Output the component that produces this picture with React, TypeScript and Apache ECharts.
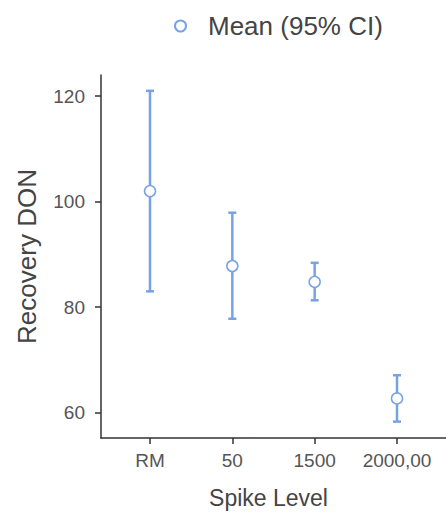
import React, { useEffect, useRef } from "react";
import * as echarts from "echarts";

const categories = ["RM", "50", "1500", "2000,00"];
const means = [102.0, 87.8, 84.8, 62.7];
const lowerCI = [83.0, 77.8, 81.3, 58.3];
const upperCI = [121.0, 97.9, 88.4, 67.1];
const yTicks = [60, 80, 100, 120];

const BLUE = "#78a2e6";
const FONT = "'Liberation Sans', Arial, sans-serif";

export default function App() {
  const ref = useRef<HTMLDivElement>(null);
  useEffect(() => {
    if (!ref.current) return;
    const chart = echarts.init(ref.current, undefined, { renderer: "svg" });
    const errData = categories.map((_, i) => [i, lowerCI[i], upperCI[i]]);
    const meanData = categories.map((_, i) => [i, means[i]]);
    chart.setOption({
      animation: false,
      textStyle: { fontFamily: FONT },
      legend: {
        left: 169,
        top: 8,
        itemWidth: 11,
        itemHeight: 11,
        itemGap: 0,
        data: [{ name: "Mean (95% CI)", icon: "circle" }],
        textStyle: { fontSize: 26, color: "#444", fontFamily: FONT, padding: [0, 0, 0, 17] },
      },
      grid: { left: 101, top: 75, width: 345, height: 363 },
      xAxis: {
        type: "value",
        min: -0.595,
        max: 3.595,
        name: "Spike Level",
        nameLocation: "middle",
        nameGap: 48,
        nameTextStyle: { fontSize: 23, color: "#444", fontFamily: FONT, padding: [0, 10, 0, 0] },
        splitLine: { show: false },
        axisLine: { show: true, onZero: false, lineStyle: { color: "#333", width: 1.5 } },
        axisTick: { show: true, length: 6, customValues: [0, 1, 2, 3], lineStyle: { color: "#333", width: 1.5 } },
        axisLabel: {
          customValues: [0, 1, 2, 3],
          formatter: (v: number) => categories[Math.round(v)] ?? "",
          fontSize: 19,
          color: "#555",
          margin: 13,
          fontFamily: FONT,
        },
      },
      yAxis: {
        type: "value",
        min: 55.2,
        max: 124.0,
        name: "Recovery DON",
        nameLocation: "middle",
        nameGap: 61,
        nameTextStyle: { fontSize: 26, color: "#444", fontFamily: FONT },
        splitLine: { show: false },
        axisLine: { show: true, onZero: false, lineStyle: { color: "#333", width: 1.5 } },
        axisTick: { show: true, length: 6, customValues: yTicks, lineStyle: { color: "#333", width: 1.5 } },
        axisLabel: {
          customValues: yTicks,
          fontSize: 19,
          color: "#555",
          margin: 16,
          fontFamily: FONT,
        },
      },
      series: [
        {
          type: "custom",
          name: "CI",
          data: errData,
          encode: { x: 0, y: [1, 2] },
          renderItem: (params: any, api: any) => {
            const x = api.value(0);
            const lo = api.coord([x, api.value(1)]);
            const hi = api.coord([x, api.value(2)]);
            const hw = 4;
            const style = { stroke: BLUE, lineWidth: 2.5, fill: "none" };
            return {
              type: "group",
              children: [
                { type: "line", shape: { x1: lo[0], y1: lo[1], x2: hi[0], y2: hi[1] }, style },
                { type: "line", shape: { x1: hi[0] - hw, y1: hi[1], x2: hi[0] + hw, y2: hi[1] }, style },
                { type: "line", shape: { x1: lo[0] - hw, y1: lo[1], x2: lo[0] + hw, y2: lo[1] }, style },
              ],
            };
          },
          z: 1,
        },
        {
          type: "scatter",
          name: "Mean (95% CI)",
          data: meanData,
          symbol: "circle",
          symbolSize: 11,
          itemStyle: { color: "#fff", borderColor: BLUE, borderWidth: 1.5, opacity: 1 },
          z: 2,
        },
      ],
    });
    return () => chart.dispose();
  }, []);
  return <div ref={ref} style={{ width: 446, height: 516, position: "absolute", left: 0, top: 0 }} />;
}
